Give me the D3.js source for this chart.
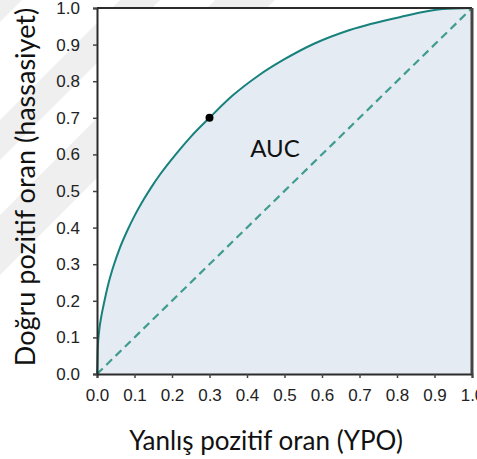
<!DOCTYPE html>
<html>
<head>
<meta charset="utf-8">
<script src="https://cdn.jsdelivr.net/npm/d3@7"></script>
<style>
  body { margin: 0; background: #fff; }
  svg { display: block; }
</style>
</head>
<body>
<svg id="chart" width="477" height="459"></svg>
<script>
// ROC curve points (false positive rate, true positive rate)
const fpr = [0, 0.002, 0.006, 0.012, 0.02, 0.03, 0.044, 0.06, 0.08, 0.10, 0.124, 0.146, 0.168, 0.21, 0.25, 0.30, 0.363, 0.43, 0.50, 0.58, 0.674, 0.807, 0.922, 1];
const tpr = [0, 0.07, 0.12, 0.16, 0.20, 0.245, 0.295, 0.342, 0.39, 0.432, 0.476, 0.512, 0.545, 0.60, 0.648, 0.70, 0.762, 0.815, 0.86, 0.903, 0.94, 0.975, 0.997, 1];
const chance = [0, 1];
const marked = { x: 0.3, y: 0.7 };
const ticks = [0, 0.1, 0.2, 0.3, 0.4, 0.5, 0.6, 0.7, 0.8, 0.9, 1.0];

const margin = { left: 97, top: 8, right: 5, bottom: 85 };
const W = 477, H = 459;
const svg = d3.select("#chart");

const x = d3.scaleLinear().domain([0, 1]).range([margin.left, W - margin.right]);
const y = d3.scaleLinear().domain([0, 1]).range([H - margin.bottom, margin.top]);

// faint watermark stripes behind the chart
const wm = svg.append("g").attr("fill", "#efefef");
wm.append("path").attr("d", "M0,0 L22,0 L0,22 Z");
wm.append("path").attr("d", "M0,120 L120,0 L160,0 L0,160 Z");
wm.append("path").attr("d", "M0,215 L215,0 L275,0 L0,275 Z");

// plot background
svg.append("rect")
    .attr("x", x(0)).attr("y", y(1))
    .attr("width", x(1) - x(0)).attr("height", y(0) - y(1))
    .attr("fill", "#fff");

const pts = fpr.map((d, i) => [d, tpr[i]]);

// area under the curve
svg.append("path")
    .datum(pts)
    .attr("fill", "#e4ebf3")
    .attr("d", d3.area().x(d => x(d[0])).y0(y(0)).y1(d => y(d[1])).curve(d3.curveMonotoneX));

// chance diagonal
svg.append("line")
    .attr("x1", x(chance[0])).attr("y1", y(chance[0]))
    .attr("x2", x(chance[1])).attr("y2", y(chance[1]))
    .attr("stroke", "#3f9c8e")
    .attr("stroke-width", 2.2)
    .attr("stroke-dasharray", "8,5");

// ROC curve
svg.append("path")
    .datum(pts)
    .attr("fill", "none")
    .attr("stroke", "#17817c")
    .attr("stroke-width", 2)
    .attr("d", d3.line().x(d => x(d[0])).y(d => y(d[1])).curve(d3.curveMonotoneX));

svg.append("circle")
    .attr("cx", x(marked.x)).attr("cy", y(marked.y))
    .attr("r", 4).attr("fill", "#000");

// axes
const xAxis = svg.append("g")
    .attr("transform", `translate(0,${y(0)})`)
    .call(d3.axisBottom(x).tickValues(ticks).tickFormat(d3.format(".1f")).tickSize(4).tickPadding(11));
const yAxis = svg.append("g")
    .attr("transform", `translate(${x(0)},0)`)
    .call(d3.axisLeft(y).tickValues(ticks).tickFormat(d3.format(".1f")).tickSize(4).tickPadding(13));

[xAxis, yAxis].forEach(a => {
    a.select(".domain").attr("stroke", "#2b2b2b").attr("stroke-width", 2);
    a.selectAll(".tick line").attr("stroke", "#444").attr("stroke-width", 1.5);
    a.selectAll("text")
        .attr("font-family", "'Liberation Sans', Arial, sans-serif")
        .attr("font-size", 17)
        .attr("fill", "#222");
});

// box top and right
svg.append("line")
    .attr("x1", x(0)).attr("x2", x(1)).attr("y1", y(1)).attr("y2", y(1))
    .attr("stroke", "#2b2b2b").attr("stroke-width", 2);
svg.append("line")
    .attr("x1", x(1)).attr("x2", x(1)).attr("y1", y(1)).attr("y2", y(0))
    .attr("stroke", "#444").attr("stroke-width", 3);

// labels
svg.append("text")
    .attr("x", 266).attr("y", 450)
    .attr("text-anchor", "middle")
    .attr("font-family", "Lato, 'Open Sans', sans-serif")
    .attr("font-size", 26)
    .attr("fill", "#111")
    .text("Yanlış pozitif oran (YPO)");

svg.append("text")
    .attr("transform", `translate(35,187) rotate(-90)`)
    .attr("text-anchor", "middle")
    .attr("font-family", "Lato, 'Open Sans', sans-serif")
    .attr("font-size", 27)
    .attr("fill", "#111")
    .text("Doğru pozitif oran (hassasiyet)");

svg.append("text")
    .attr("x", 275).attr("y", 157)
    .attr("text-anchor", "middle")
    .attr("font-family", "Lato, 'Open Sans', sans-serif")
    .attr("font-size", 24)
    .attr("fill", "#111")
    .text("AUC");
</script>
</body>
</html>
